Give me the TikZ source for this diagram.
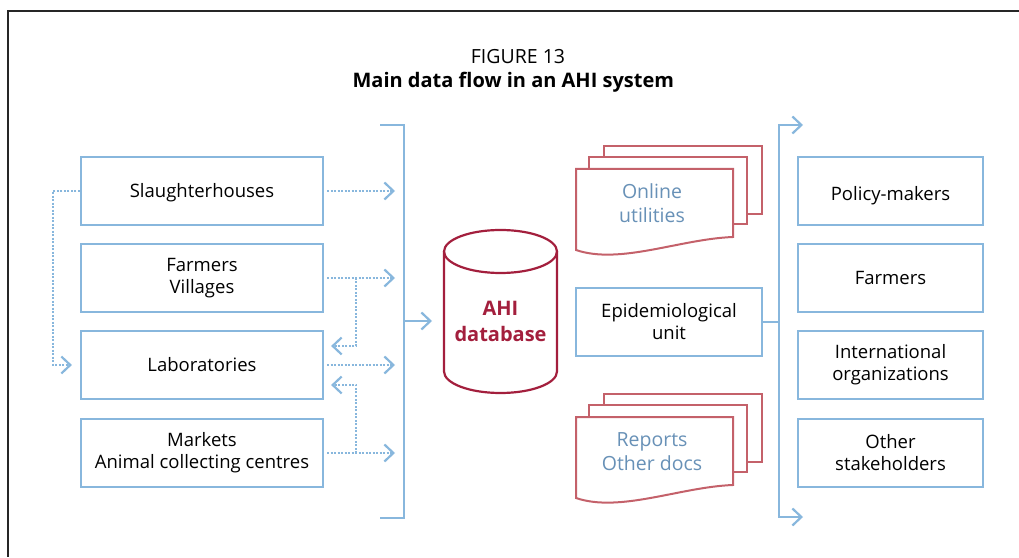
\documentclass[tikz,border=0pt]{standalone}
\usepackage{fontspec}
\setmainfont{Open Sans}
\usetikzlibrary{arrows.meta,calc}
\definecolor{lblue}{HTML}{88B7DD}
\definecolor{docred}{HTML}{C4616A}
\definecolor{dbred}{HTML}{A31F3D}
\definecolor{doctxt}{HTML}{6891B7}
\newcommand\boxfont{\fontsize{18.5}{22}\selectfont}
\newcommand\docfont{\fontsize{19.5}{24}\selectfont}
\newcommand\dbfont{\fontsize{20}{26}\selectfont\bfseries}
\begin{document}
\begin{tikzpicture}[x=1pt,y=1pt,
  lin/.style={draw=lblue,line width=2.2pt},
  box/.style={lin, minimum height=68pt, inner sep=0pt, align=center, font=\boxfont, text=black},
  lbox/.style={box, minimum width=242pt},
  rbox/.style={box, minimum width=185pt},
  dots/.style={draw=lblue, line width=2.2pt, dash pattern=on 2pt off 1.5pt},
  tipend/.style={-{Straight Barb[length=9pt,width=17pt]}},
  bothtips/.style={{Straight Barb[length=9pt,width=17pt]}-{Straight Barb[length=9pt,width=17pt]}},
  docl/.style={draw=docred, line width=2pt, fill=white, line join=miter},
  doctext/.style={align=center, font=\docfont, text=doctxt, inner sep=0pt},
  dbl/.style={draw=dbred, line width=2.2pt},
  titletext/.style={inner sep=0pt, anchor=base, text=black}]
\useasboundingbox (0,0) rectangle (1019,557);

% frame
\draw[line width=2pt, black!85] (1019,546) -- (8,546) -- (8,0);

% title
\node[titletext, font=\fontsize{19.5}{24}\selectfont] (t1) at (518,493) {FIGURE 13};
\node[titletext, font=\fontsize{20}{24}\selectfont\bfseries] (t2) at (513.3,469) {Main data flow in an AHI system};

% left boxes
\node[lbox] (S) at (202,366) {\raisebox{-1.5pt}[\height][\depth]{Slaughterhouses}};
\node[lbox] (F) at (202,279) {Farmers\\Villages};
\node[lbox] (L) at (202,192) {Laboratories};
\node[lbox] (M) at (202,104) {Markets\\Animal collecting centres};

% right boxes
\node[rbox] (P) at (890.5,366) {\raisebox{-4.5pt}[\height][\depth]{Policy-makers}};
\node[rbox] (RF) at (890.5,279) {Farmers};
\node[rbox] (I) at (890.5,192) {International\\organizations};
\node[rbox] (O) at (890.5,104) {Other\\stakeholders};

% epidemiological unit
\node[box, minimum width=186pt] (E) at (669,235) {Epidemiological\\unit};

% bracket on the left of the database
\coordinate (bt0) at (380,432);
\coordinate (bt) at (404,432);
\coordinate (bb) at (404,39);
\coordinate (bb0) at (380,39);
\coordinate (bm) at (404,236);
\coordinate (bmt) at (432,236);
\draw[lin] (bt0) -- (bt) -- (bb) -- (bb0);
\draw[lin, tipend] (bm) -- (bmt);

% dotted arrows into the bracket
\coordinate (dx) at (395,0);
\foreach \n in {S,F,L,M}
  \draw[dots, tipend] ([xshift=3pt]\n.east) -- (\n.east -| dx);

% dotted loop from slaughterhouses to laboratories
\coordinate (lx) at (53,0);
\draw[dots, tipend] (S.west) -- (S.west -| lx) |- ([xshift=-8pt]L.west);

% dotted returns to laboratories
\coordinate (jx) at (356,0);
\draw[dots, tipend] (F.east -| jx) |- ($(L.east)+(7,19)$);
\draw[dots, tipend] (M.east -| jx) |- ($(L.east)+(7,-20)$);

% database cylinder
\draw[dbl] (444,305.5) -- (444,185.5) arc[start angle=180, end angle=360, x radius=56.5, y radius=21.5] -- (557,305.5);
\draw[dbl] (500.5,305.5) ellipse[x radius=56.5, y radius=21.5];
\node[align=center, font=\dbfont, text=dbred, inner sep=0pt] (db) at (500.5,236) {AHI\\database};

% online utilities stack
\draw[docl] (604,343) rectangle (762,411);
\draw[docl] (589,333) rectangle (747,400);
\draw[docl] (576,307) -- (576,388) -- (733,388) -- (733,320) .. controls (680,318) and (620,292) .. (576,307) -- cycle;
\node[doctext] (OU) at (652,353.5) {Online\\utilities};

% reports stack
\begin{scope}[yshift=-248pt]
\draw[docl] (604,343) rectangle (762,411);
\draw[docl] (589,333) rectangle (747,400);
\draw[docl] (576,307) -- (576,388) -- (733,388) -- (733,320) .. controls (680,318) and (620,292) .. (576,307) -- cycle;
\end{scope}
\node[doctext] (RD) at (652,105) {Reports\\Other docs};

% output bus
\coordinate (rt) at (779,432);
\coordinate (rb) at (779,40);
\coordinate (rat) at (803,432);
\coordinate (rab) at (803,40);
\draw[lin] (E.east) -- (E.east -| rt);
\draw[lin, bothtips] (rat) -- (rt) -- (rb) -- (rab);
\end{tikzpicture}
\end{document}
